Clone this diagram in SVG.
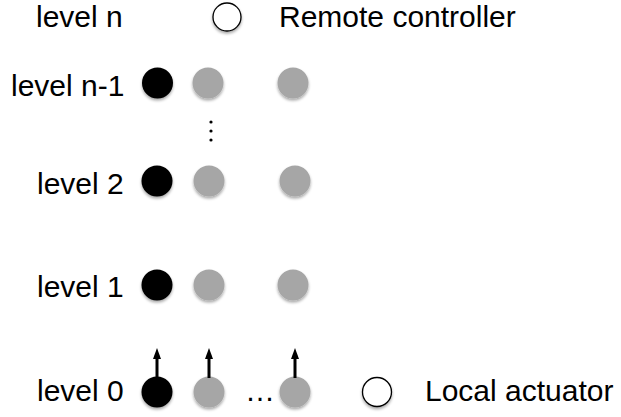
<svg xmlns="http://www.w3.org/2000/svg" width="621" height="417" viewBox="0 0 621 417">
<style>
text{font-family:"Liberation Sans",Arial,sans-serif;font-size:30px;fill:#000}
.b{fill:#000;filter:url(#sh)}
.g{fill:#a6a6a6;filter:url(#sh)}
.o{fill:#fff;stroke:#000;stroke-width:1.3;filter:url(#sh)}
.ar{stroke:#000;stroke-width:3;fill:none;marker-end:url(#ah)}
</style>
<defs>
<filter id="sh" x="-50%" y="-50%" width="200%" height="200%">
<feGaussianBlur in="SourceAlpha" stdDeviation="1.5"/>
<feOffset dy="2" result="b"/>
<feComponentTransfer><feFuncA type="linear" slope="0.35"/></feComponentTransfer>
<feMerge><feMergeNode/><feMergeNode in="SourceGraphic"/></feMerge>
</filter>
<marker id="ah" markerWidth="11" markerHeight="8" refX="0" refY="4" orient="auto" markerUnits="userSpaceOnUse" viewBox="0 0 11 8">
<path d="M0,0 L11,4 L0,8 z" fill="#000"/>
</marker>
</defs>
<g id="labels">
<text x="36" y="27">level n</text>
<text x="279" y="27">Remote controller</text>
<text x="11" y="96">level n-1</text>
<text x="37" y="194">level 2</text>
<text x="37" y="297">level 1</text>
<text x="37" y="401">level 0</text>
<text x="245" y="401">…</text>
<text x="425" y="401">Local actuator</text>
</g>
<g id="legend-remote"><circle class="o" cx="227" cy="17" r="14"/></g>
<g id="legend-local"><circle class="o" cx="377" cy="392" r="14.5"/></g>
<g id="level-n-1">
<circle class="b" cx="157.5" cy="83" r="15.5"/>
<circle class="g" cx="208" cy="83" r="15.5"/>
<circle class="g" cx="293" cy="83" r="15.5"/>
</g>
<g id="vdots">
<circle cx="211" cy="122" r="1.6"/>
<circle cx="211" cy="131" r="1.6"/>
<circle cx="211" cy="140" r="1.6"/>
</g>
<g id="level-2">
<circle class="b" cx="157" cy="181" r="15.5"/>
<circle class="g" cx="209" cy="181" r="15.5"/>
<circle class="g" cx="295" cy="181" r="15.5"/>
</g>
<g id="level-1">
<circle class="b" cx="157" cy="285" r="15.5"/>
<circle class="g" cx="209" cy="285" r="15.5"/>
<circle class="g" cx="293" cy="285" r="15.5"/>
</g>
<g id="level-0">
<circle class="b" cx="157" cy="392" r="15.5"/>
<circle class="g" cx="209" cy="392" r="15.5"/>
<circle class="g" cx="295" cy="392" r="15.5"/>
</g>
<g id="connectors">
<line class="ar" x1="157" y1="378" x2="157" y2="359"/>
<line class="ar" x1="209" y1="378" x2="209" y2="359"/>
<line class="ar" x1="295" y1="378" x2="295" y2="359"/>
</g>
</svg>
